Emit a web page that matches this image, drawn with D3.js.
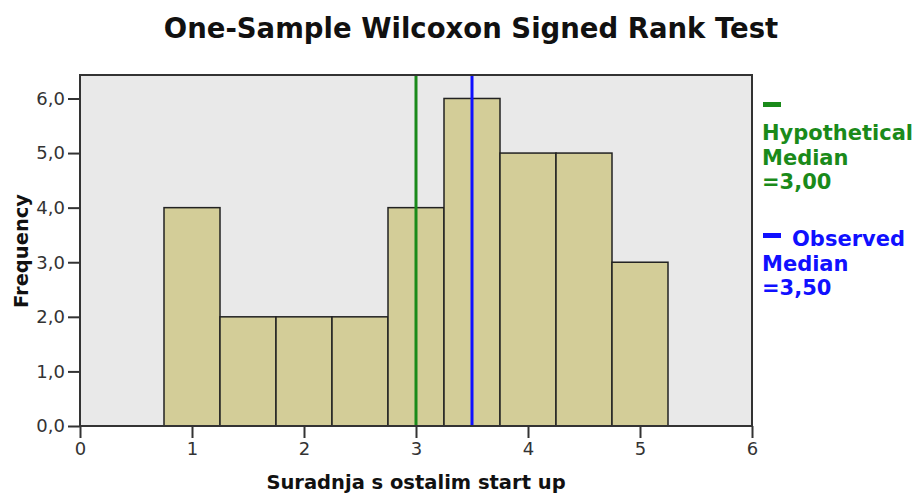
<!DOCTYPE html>
<html>
<head>
<meta charset="utf-8">
<script src="https://d3js.org/d3.v7.min.js"></script>
<style>
  body { margin: 0; background: #fff; }
</style>
</head>
<body>
<div id="canvas"></div>
<script>
// histogram bins (lower edge, upper edge) and counts
let binStart = [0.75, 1.25, 1.75, 2.25, 2.75, 3.25, 3.75, 4.25, 4.75];
let binEnd = [1.25, 1.75, 2.25, 2.75, 3.25, 3.75, 4.25, 4.75, 5.25];
let counts = [4, 2, 2, 2, 4, 6, 5, 5, 3];
let xTicks = [0, 1, 2, 3, 4, 5, 6];
let yTicks = [0, 1, 2, 3, 4, 5, 6];
let hypMedian = 3.00;
let obsMedian = 3.50;
let legendHyp = ["Hypothetical", "Median", "=3,00"];
let legendObs = ["Observed", "Median", "=3,50"];

let data = binStart.map((s, i) => ({ x0: s, x1: binEnd[i], n: counts[i] }));

let width = 922;
let height = 493;
let margin = { top: 75, bottom: 66, left: 80, right: 170 };
let fontFam = "'DejaVu Sans', Verdana, sans-serif";

let escalaX = d3.scaleLinear()
  .domain([0, 6])
  .range([margin.left, width - margin.right]);
let escalaY = d3.scaleLinear()
  .domain([0, 6.43])
  .range([height - margin.bottom - 1, margin.top]);

let svg = d3.select("#canvas")
  .append("svg")
  .attr("width", width)
  .attr("height", height);

// plot background
svg.append("rect")
  .attr("x", escalaX(0))
  .attr("y", escalaY(6.43))
  .attr("width", escalaX(6) - escalaX(0))
  .attr("height", escalaY(0) - escalaY(6.43))
  .attr("fill", "#e9e9e9");

// bars
svg.selectAll("rect.bar")
  .data(data)
  .enter()
  .append("rect")
  .attr("class", "bar")
  .attr("x", d => escalaX(d.x0))
  .attr("y", d => escalaY(d.n))
  .attr("width", d => escalaX(d.x1) - escalaX(d.x0))
  .attr("height", d => escalaY(0) - escalaY(d.n))
  .attr("fill", "#d3cd98")
  .attr("stroke", "#222")
  .attr("stroke-width", 1.5);

// median lines
svg.append("line")
  .attr("x1", escalaX(hypMedian)).attr("x2", escalaX(hypMedian))
  .attr("y1", escalaY(6.43)).attr("y2", escalaY(0))
  .attr("stroke", "#1a8a1a").attr("stroke-width", 3);
svg.append("line")
  .attr("x1", escalaX(obsMedian)).attr("x2", escalaX(obsMedian))
  .attr("y1", escalaY(6.43)).attr("y2", escalaY(0))
  .attr("stroke", "#1010ff").attr("stroke-width", 3);

// frame
svg.append("rect")
  .attr("x", escalaX(0))
  .attr("y", escalaY(6.43))
  .attr("width", escalaX(6) - escalaX(0))
  .attr("height", escalaY(0) - escalaY(6.43))
  .attr("fill", "none")
  .attr("stroke", "#333")
  .attr("stroke-width", 2);

// axes
let ejeX = d3.axisBottom(escalaX)
  .tickValues(xTicks)
  .tickSize(12)
  .tickPadding(4)
  .tickFormat(d3.format("d"));
svg.append("g")
  .attr("transform", "translate(0," + escalaY(0) + ")")
  .call(ejeX)
  .call(g => g.select(".domain").remove())
  .call(g => g.selectAll("line").attr("stroke", "#333").attr("stroke-width", 2))
  .call(g => g.selectAll("text").style("font-size", "18px").attr("fill", "#333")
    .style("font-family", fontFam));

let ejeY = d3.axisLeft(escalaY)
  .tickValues(yTicks)
  .tickSize(12)
  .tickPadding(3)
  .tickFormat(d => d3.format(".1f")(d).replace(".", ","));
svg.append("g")
  .attr("transform", "translate(" + escalaX(0) + ",0)")
  .call(ejeY)
  .call(g => g.select(".domain").remove())
  .call(g => g.selectAll("line").attr("stroke", "#333").attr("stroke-width", 2))
  .call(g => g.selectAll("text").style("font-size", "18px").attr("fill", "#333")
    .style("font-family", fontFam));

// title
svg.append("text")
  .attr("x", 471)
  .attr("y", 38)
  .attr("text-anchor", "middle")
  .style("font-family", fontFam)
  .style("font-size", "27.5px")
  .style("font-weight", "bold")
  .attr("fill", "#111")
  .text("One-Sample Wilcoxon Signed Rank Test");

// axis titles
svg.append("text")
  .attr("x", 416)
  .attr("y", 489)
  .attr("text-anchor", "middle")
  .style("font-family", fontFam)
  .style("font-size", "19.5px")
  .style("font-weight", "bold")
  .attr("fill", "#111")
  .text("Suradnja s ostalim start up");

svg.append("text")
  .attr("transform", "translate(28,251) rotate(-90)")
  .attr("text-anchor", "middle")
  .style("font-family", fontFam)
  .style("font-size", "19.5px")
  .style("font-weight", "bold")
  .attr("fill", "#111")
  .text("Frequency");

// legend
let legendX = 762;
svg.append("rect").attr("x", legendX + 1).attr("y", 102).attr("width", 18).attr("height", 5).attr("fill", "#1a8a1a");
svg.append("g").selectAll("text")
  .data(legendHyp)
  .enter()
  .append("text")
  .attr("x", legendX)
  .attr("y", (d, i) => 140 + i * 24.5)
  .style("font-family", fontFam)
  .style("font-size", "21px")
  .style("font-weight", "bold")
  .attr("fill", "#1a8a1a")
  .text(d => d);

svg.append("rect").attr("x", legendX + 1).attr("y", 233).attr("width", 18).attr("height", 5).attr("fill", "#1010ff");
svg.append("g").selectAll("text")
  .data(legendObs)
  .enter()
  .append("text")
  .attr("x", (d, i) => i === 0 ? legendX + 30 : legendX)
  .attr("y", (d, i) => 246 + i * 24.5)
  .style("font-family", fontFam)
  .style("font-size", "21px")
  .style("font-weight", "bold")
  .attr("fill", "#1010ff")
  .text(d => d);
</script>
</body>
</html>
